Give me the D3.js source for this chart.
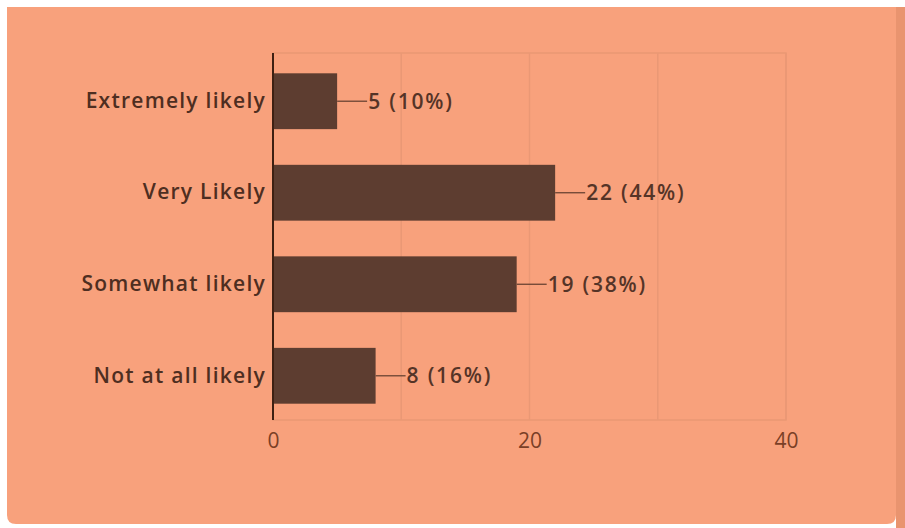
<!DOCTYPE html>
<html>
<head>
<meta charset="utf-8">
<script src="https://cdn.jsdelivr.net/npm/d3@7"></script>
<style>
  html, body { margin: 0; padding: 0; background: #ffffff; }
  svg { display: block; }
  text { font-family: "Open Sans", Roboto, sans-serif; }
</style>
</head>
<body>
<svg id="chart" width="905" height="528"></svg>
<script>
// Survey responses
const categories = ["Extremely likely", "Very Likely", "Somewhat likely", "Not at all likely"];
const counts = [5, 22, 19, 8];
const percents = [10, 44, 38, 16];
const xTicks = [0, 20, 40];
const gridTicks = [10, 20, 30, 40];

const data = categories.map((c, i) => ({ cat: c, n: counts[i], pct: percents[i] }));

const svg = d3.select("#chart");
const W = 905, H = 528;

// card background
svg.append("rect").attr("x", 896).attr("y", 7).attr("width", 9).attr("height", H - 7)
  .attr("fill", "#E9946F");
svg.append("path")
  .attr("d", (() => {
    const x0 = 7, y0 = 7, x1 = 896, y1 = 524, r = 9;
    return `M${x0},${y0}H${x1}V${y1 - r}Q${x1},${y1} ${x1 - r},${y1}H${x0 + r}Q${x0},${y1} ${x0},${y1 - r}Z`;
  })())
  .attr("fill", "#F8A17C");

const plotTop = 53, plotBottom = 420;

const x = d3.scaleLinear().domain([0, 40]).range([273, 786]);
const y = d3.scaleBand().domain(categories).range([plotTop + 2, plotBottom + 2])
  .paddingInner(0.39).paddingOuter(0.2);

const defs = svg.append("defs");
defs.append("filter").attr("id", "soft")
  .append("feGaussianBlur").attr("stdDeviation", 0.6);

// plot frame and vertical gridlines
const grid = svg.append("g").attr("filter", "url(#soft)");
grid.append("rect")
  .attr("x", x(0)).attr("y", plotTop)
  .attr("width", x(40) - x(0)).attr("height", plotBottom - plotTop)
  .attr("fill", "none").attr("stroke", "#EA9874").attr("stroke-width", 1.5);
grid.selectAll("line.g").data(gridTicks).join("line")
  .attr("class", "g")
  .attr("x1", d => x(d)).attr("x2", d => x(d))
  .attr("y1", plotTop).attr("y2", plotBottom)
  .attr("stroke", "#EA9874").attr("stroke-width", 1.5);

// bars
svg.selectAll("rect.bar").data(data).join("rect")
  .attr("class", "bar")
  .attr("x", x(0)).attr("y", d => y(d.cat))
  .attr("width", d => x(d.n) - x(0)).attr("height", y.bandwidth())
  .attr("fill", "#5D3D30");

// leader lines and value labels
svg.selectAll("line.lead").data(data).join("line")
  .attr("class", "lead")
  .attr("x1", d => x(d.n)).attr("x2", d => x(d.n) + 30)
  .attr("y1", d => y(d.cat) + y.bandwidth() / 2).attr("y2", d => y(d.cat) + y.bandwidth() / 2)
  .attr("stroke", "#6B4433").attr("stroke-width", 1.3);

svg.selectAll("text.val").data(data).join("text")
  .attr("class", "val")
  .attr("x", d => x(d.n) + 31)
  .attr("y", d => y(d.cat) + y.bandwidth() / 2)
  .attr("dy", "0.36em")
  .attr("font-size", 21).attr("font-weight", 600)
  .attr("letter-spacing", 1.8)
  .attr("fill", "#553427")
  .text(d => `${d.n} (${d.pct}%)`);

// category axis
const yAxis = svg.append("g").attr("transform", `translate(${x(0)},0)`)
  .call(d3.axisLeft(y).tickSize(0).tickPadding(7));
yAxis.select(".domain").attr("stroke", "#3E2012").attr("stroke-width", 2)
  .attr("d", `M0,${plotTop}V${plotBottom}`);
yAxis.selectAll("text")
  .attr("font-size", 21).attr("font-weight", 600)
  .attr("letter-spacing", 1.25)
  .attr("fill", "#4E2E21")
  .style("font-family", "'Open Sans', Roboto, sans-serif");

// value axis labels
const xAxis = svg.append("g").attr("transform", `translate(0,${plotBottom})`)
  .call(d3.axisBottom(x).tickValues(xTicks).tickSize(0).tickPadding(13));
xAxis.select(".domain").remove();
xAxis.selectAll("text")
  .attr("font-size", 21).attr("font-weight", 400)
  .attr("fill", "#7A3F26")
  .style("font-family", "'Open Sans', Roboto, sans-serif");
</script>
</body>
</html>
